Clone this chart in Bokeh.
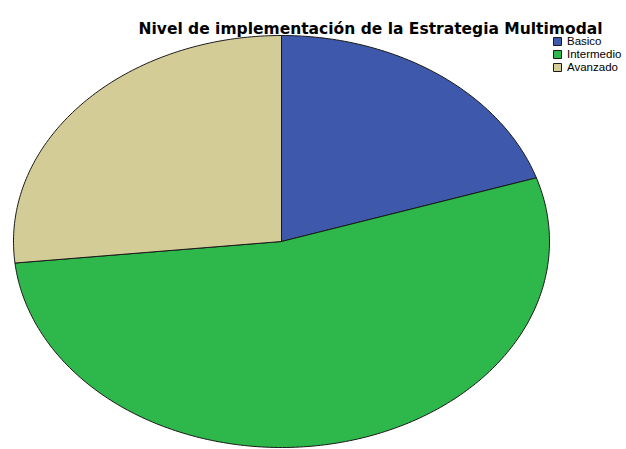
import numpy as np
from bokeh.plotting import figure
from bokeh.models import Range1d, Label, Legend, LegendItem, ColumnDataSource
from bokeh.embed import file_html
from bokeh.resources import INLINE

title = "Nivel de implementación de la Estrategia Multimodal"
categories = ["Basico", "Intermedio", "Avanzado"]
counts = [3, 8, 4]
colors = ["#3e58ab", "#2eb84c", "#d4cc97"]

W, H = 626, 449
cx_px, cy_px = 281, 241          # pie centre in canvas pixels (from top-left)
rx_px, ry_px = 268, 206          # ellipse radii in pixels

p = figure(width=W, height=H, output_backend="svg", toolbar_location=None,
           x_range=Range1d(-cx_px / rx_px, (W - cx_px) / rx_px),
           y_range=Range1d(-(H - cy_px) / ry_px, cy_px / ry_px),
           min_border=0, outline_line_color=None)
p.xaxis.visible = False
p.yaxis.visible = False
p.grid.visible = False
p.background_fill_color = "white"
p.border_fill_color = "white"

vals = np.array(counts, dtype=float)
fracs = vals / vals.sum()
start = np.pi / 2
items = []
for cat, f, col in zip(categories, fracs, colors):
    end = start - f * 2 * np.pi
    th = np.linspace(start, end, max(int(f * 400), 20))
    xs = np.concatenate([[0.0], np.cos(th), [0.0]])
    ys = np.concatenate([[0.0], np.sin(th), [0.0]])
    src = ColumnDataSource(dict(xs=[xs.tolist()], ys=[ys.tolist()]))
    r = p.patches("xs", "ys", source=src, fill_color=col, line_color="#1a1a1a",
                  line_width=1)
    items.append(LegendItem(label=cat, renderers=[r]))
    start = end

legend = Legend(items=items, location=(552, 376), margin=0, padding=0,
                spacing=1, glyph_width=10, glyph_height=10, label_height=10,
                label_standoff=5, label_text_font="Liberation Sans",
                label_text_font_size="11.5px", label_text_color="#000000",
                border_line_color=None, background_fill_alpha=0)
p.add_layout(legend, "center")

p.add_layout(Label(x=370, y=421, x_units="screen", y_units="screen", text=title,
                   text_align="center", text_baseline="alphabetic",
                   text_font="DejaVu Sans", text_font_style="bold",
                   text_font_size="15.5px", text_color="#000000"))

open("out.html", "w").write(file_html(p, INLINE))
